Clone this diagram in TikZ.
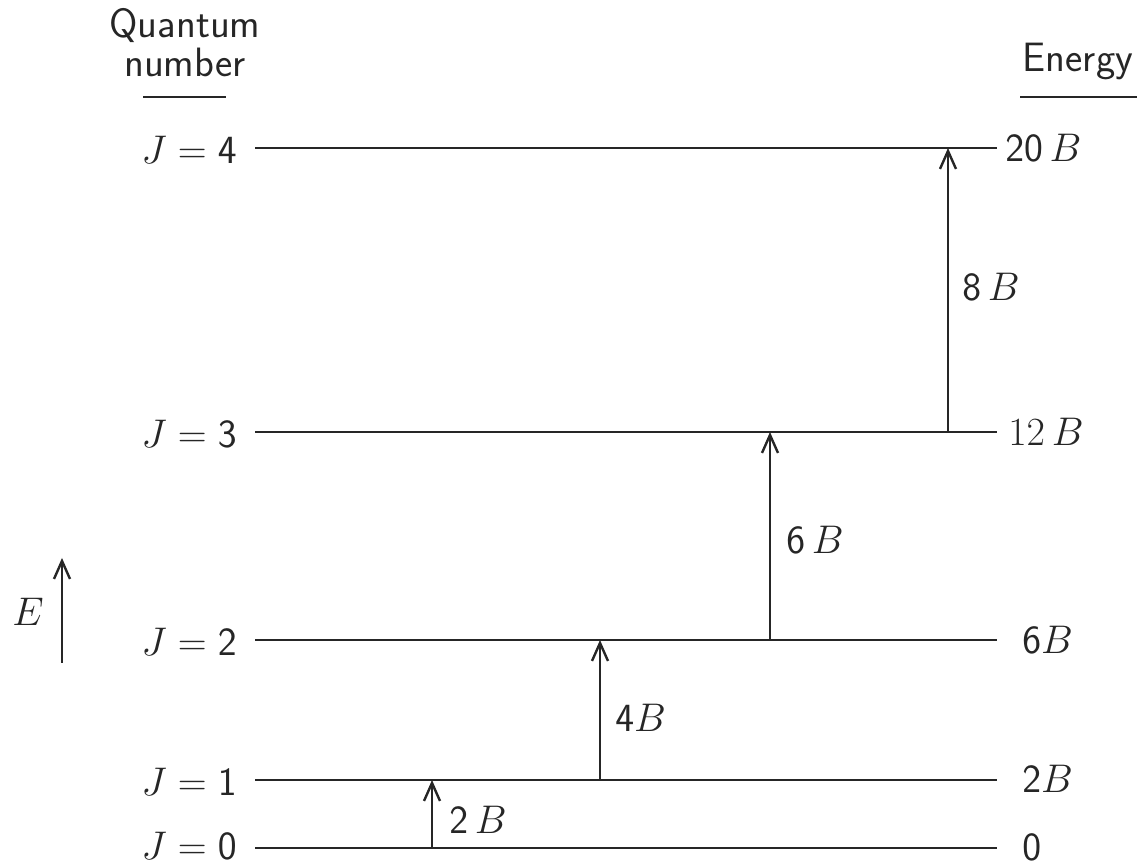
\RequirePackage{fix-cm}
\documentclass[tikz,border=0pt]{standalone}
\usepackage{amsmath}
\usetikzlibrary{arrows.meta,positioning}

\begin{document}
\begin{tikzpicture}[
  x=0.5pt,y=-0.5pt,
  every node/.style={font=\fontsize{20}{24}\selectfont,text=black!85},
  level/.style={line width=1.3pt,draw=black!85},
  trans/.style={line width=1.2pt,draw=black!85,-{Straight Barb[length=9pt,width=8pt,line width=1.2pt]}},
  qlab/.style={anchor=east,inner sep=0pt},
  elab/.style={anchor=west,inner sep=0pt},
  tlab/.style={anchor=west,inner sep=0pt},
  head/.style={align=center,inner sep=0pt,font=\fontsize{20.5}{19.5}\selectfont\sffamily},
  rule/.style={line width=1.2pt,draw=black!85}
]
  \useasboundingbox (0,0) rectangle (1141,865);

  % headings
  \node[head] (qn) at (185,43) {Quantum\\number};
  \coordinate (qa) at (143,97);
  \coordinate (qb) at (226,97);
  \draw[rule] (qa) -- (qb);
  \node[head] (en) at (1078,62) {Energy};
  \coordinate (ea) at (1020,97);
  \coordinate (eb) at (1137,97);
  \draw[rule] (ea) -- (eb);

  % levels
  \coordinate (l4) at (255,148); \coordinate (r4) at (997,148);
  \coordinate (l3) at (255,432); \coordinate (r3) at (997,432);
  \coordinate (l2) at (255,640); \coordinate (r2) at (997,640);
  \coordinate (l1) at (255,780); \coordinate (r1) at (997,780);
  \coordinate (l0) at (255,848); \coordinate (r0) at (997,848);
  \draw[level] (l4) -- (r4);
  \draw[level] (l3) -- (r3);
  \draw[level] (l2) -- (r2);
  \draw[level] (l1) -- (r1);
  \draw[level] (l0) -- (r0);

  \node[qlab] (j4) at (237,150) {$J = \mathsf{4}$};
  \node[qlab] (j3) at (237,434) {$J = \mathsf{3}$};
  \node[qlab] (j2) at (237,642) {$J = \mathsf{2}$};
  \node[qlab] (j1) at (237,782) {$J = \mathsf{1}$};
  \node[qlab] (j0) at (237,846) {$J = \mathsf{0}$};

  \node[elab] (e4) at (1005,148) {$\mathsf{20}\,B$};
  \node[elab] (e3) at (1008,432) {$12\,B$};
  \node[elab] (e2) at (1022,640) {$\mathsf{6}B$};
  \node[elab] (e1) at (1022,779) {$\mathsf{2}B$};
  \node[elab] (e0) at (1022,847) {$\mathsf{0}$};

  % transitions
  \coordinate (b1) at (432,848); \coordinate (t1) at (432,780);
  \coordinate (b2) at (600,780); \coordinate (t2) at (600,640);
  \coordinate (b3) at (770,640); \coordinate (t3) at (770,432);
  \coordinate (b4) at (948,432); \coordinate (t4) at (948,148);
  \draw[trans] (b1) -- (t1);
  \draw[trans] (b2) -- (t2);
  \draw[trans] (b3) -- (t3);
  \draw[trans] (b4) -- (t4);
  \node[tlab] (d1) at (449,820) {$\mathsf{2}\,B$};
  \node[tlab] (d2) at (615,718) {$\mathsf{4}B$};
  \node[tlab] (d3) at (786,540) {$\mathsf{6}\,B$};
  \node[tlab] (d4) at (962,287) {$\mathsf{8}\,B$};

  % energy axis
  \coordinate (ax0) at (62,663);
  \coordinate (ax1) at (62,558);
  \draw[trans] (ax0) -- (ax1);
  \node (E) at (28,612) {$E$};
\end{tikzpicture}
\end{document}
